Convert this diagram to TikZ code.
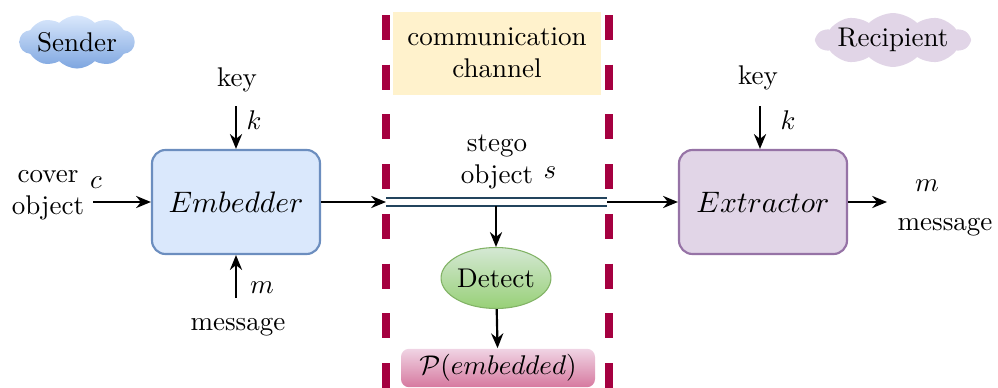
\documentclass[tikz,border=0pt]{standalone}
\usepackage{amsmath,amssymb}
\usepackage{tikz}
\usetikzlibrary{arrows.meta,shapes,backgrounds}

\definecolor{embfill}{HTML}{DAE8FC}
\definecolor{embdraw}{HTML}{6C8EBF}
\definecolor{sndblue}{HTML}{7EA6E0}
\definecolor{extfill}{HTML}{E1D5E7}
\definecolor{extdraw}{HTML}{9673A6}
\definecolor{chanfill}{HTML}{FFF2CC}
\definecolor{chandash}{HTML}{A50040}
\definecolor{detlight}{HTML}{D5E8D4}
\definecolor{detfill}{HTML}{97D077}
\definecolor{detdraw}{HTML}{82B366}
\definecolor{plight}{HTML}{F0D4E4}
\definecolor{pfill}{HTML}{D6799F}
\definecolor{stegoline}{HTML}{23445D}

\begin{document}
\begin{tikzpicture}[x=0.013cm, y=-0.013cm, inner sep=0pt]
    \tikzstyle{blk}=[rectangle, rounded corners=5pt, minimum width=2.184cm, minimum height=1.352cm, thick, font=\fontsize{11}{13}\selectfont]
    \tikzstyle{cld}=[cloud, cloud puffs=10, cloud puff arc=90, cloud ignores aspect, text=black]
    \tikzstyle{arr}=[-{Stealth[length=5.5pt, width=4.5pt, inset=1.8pt]}, line width=0.8pt]
    \tikzstyle{dsh}=[draw=chandash, line width=2.6pt, dash pattern=on 9.2pt off 9.2pt]

    \useasboundingbox (0,0) rectangle (998,388);

    % channel
    \node[fill=chanfill, minimum width=2.704cm, minimum height=1.079cm, align=center] (chan) at (497,53) {communication\\channel};
    \draw[dsh] (386,15) -- (386,388);
    \draw[dsh] (609,15) -- (609,388);

    % sender / recipient
    \node[cld, top color=embfill, bottom color=sndblue, minimum width=1.495cm, minimum height=0.69cm] (snd) at (77,42) {Sender};
    \node[cld, fill=extfill, minimum width=1.91cm, minimum height=0.70cm] (rcp) at (893,40) {Recipient};

    % main blocks
    \node[blk, fill=embfill, draw=embdraw] (emb) at (236,202) {$Embedder$};
    \node[blk, fill=extfill, draw=extdraw] (ext) at (763,202) {$Extractor$};
    \node[ellipse, draw=detdraw, top color=detlight, bottom color=detfill, minimum width=1.378cm, minimum height=0.793cm] (det) at (496,278) {Detect};
    \node[rectangle, rounded corners=3pt, top color=plight, bottom color=pfill, minimum width=2.522cm, minimum height=0.5cm] (prob) at (498,368) {$\mathcal{P}(embedded)$};

    % labels
    \node (keyE) at (237,80) {key};
    \node (kE) at (254,120) {$k$};
    \node[align=center] (cov) at (48,195) {cover\\object};
    \node (cE) at (96,183) {$c$};
    \node (mE) at (262,288) {$m$};
    \node (msgE) at (238,327) {message};
    \node (keyX) at (758,78) {key};
    \node (kX) at (788,120) {$k$};
    \node (mX) at (927,186) {$m$};
    \node (msgX) at (945,227) {message};
    \node[align=center] (stg) at (497,162) {stego\\object};
    \node (sS) at (550,173) {$s$};

    \coordinate (keyEa) at (236,106);
    \coordinate (covA) at (93,202);
    \coordinate (msgA) at (236,298);
    \coordinate (keyXa) at (760,106);
    \coordinate (outA) at (887,202);
    \coordinate (chL) at (386,202);
    \coordinate (chR) at (607,202);
    \coordinate (tap) at (496,206);

    % stego line
    \draw[stegoline, line width=0.6pt, double=white, double distance=2.4pt] (chL) -- (chR);

    \draw[arr] (keyEa) -- (emb);
    \draw[arr] (covA) -- (emb);
    \draw[arr] (msgA) -- (emb);
    \draw[arr] (emb) -- (chL);
    \draw[arr] (chR) -- (ext);
    \draw[arr] (keyXa) -- (keyXa |- ext.north);
    \draw[arr] (ext) -- (outA);
    \draw[arr] (tap) -- (det);
    \draw[arr] (det) -- (prob);
\end{tikzpicture}
\end{document}
